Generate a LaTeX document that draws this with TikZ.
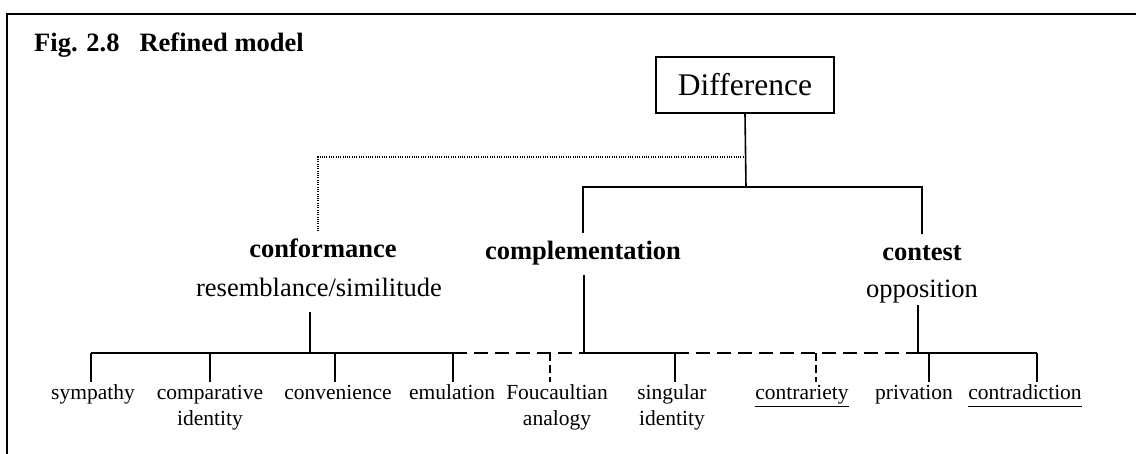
\documentclass[tikz,border=0pt]{standalone}
\usepackage{fontspec}
\setmainfont{Liberation Serif}
% centred stack of lines whose baseline is the first line
\newcommand\lbl[1]{\begin{tabular}[t]{@{}c@{}}#1\end{tabular}}
% heavier underline
\newcommand\undl[1]{\setbox0\hbox{#1}\rlap{\rule[-7pt]{\wd0}{1.4pt}}\box0}
\begin{document}
\begin{tikzpicture}[x=1pt,y=-1pt,
  line/.style={line width=1.6pt},
  dotline/.style={line width=1.1pt,dash pattern=on 1pt off 1.3pt},
  busdash/.style={line width=1.6pt,dash pattern=on 14pt off 7pt},
  tickdash/.style={line width=1.6pt,dash pattern=on 8pt off 4pt},
  rootbox/.style={draw,line width=1.5pt,minimum width=178pt,minimum height=56pt,
    inner sep=0pt,font=\fontsize{31.5}{36}\selectfont},
  mid/.style={anchor=base,inner xsep=0pt,inner ysep=9pt,text height=18pt,text depth=6pt,
    font=\fontsize{26.5}{30}\selectfont},
  head/.style={mid,font=\fontsize{26.5}{30}\selectfont\bfseries},
  leaf/.style={anchor=base,inner sep=0pt,font=\fontsize{21.5}{26}\selectfont}]
\useasboundingbox (0,0) rectangle (1136,454);

% frame edges
\draw[line width=2.2pt] (7,454) -- (7,14) -- (1136,14);

% title
\node[anchor=base west,inner sep=0pt,font=\fontsize{26.5}{30}\selectfont\bfseries]
  (title) at (34,52) {Fig. 2.8\hspace{20pt}Refined model};

% root
\node[rootbox] (diff) at (745,85) {Difference};

% second level
\node[head] (conf) at (323,258) {conformance};
\node[mid] (confsub) at (319,297) {resemblance/similitude};
\node[head] (comp) at (583,260) {complementation};
\node[head] (cont) at (922,261) {contest};
\node[mid] (opp) at (922,298) {opposition};
\coordinate (oppfoot) at ([yshift=8pt]opp.south);

% root connectors
\coordinate (hub) at (746,187);
\coordinate (dj) at (746,157);
\draw[line] (diff.south) -- (hub);
\draw[line] (comp.north) |- (hub) -| (cont.north);
\draw[dotline] (dj) -| ([xshift=-5pt]conf.north);

% leaves
\node[leaf] (sym) at (93,400) {\lbl{sympathy}};
\node[leaf] (cid) at (210,400) {\lbl{comparative\\identity}};
\node[leaf] (conv) at (338,400) {\lbl{convenience}};
\node[leaf] (emu) at (452,400) {\lbl{emulation}};
\node[leaf] (fouc) at (557,400) {\lbl{Foucaultian\\analogy}};
\node[leaf] (sing) at (672,400) {\lbl{singular\\identity}};
\node[leaf] (contr) at (802,400) {\lbl{\undl{contrariety}}};
\node[leaf] (priv) at (914,400) {\lbl{privation}};
\node[leaf] (contra) at (1025,400) {\lbl{\undl{contradiction}}};

% bus junctions
\coordinate (b1) at (91,353);
\coordinate (b2) at (210,353);
\coordinate (b3) at (335,353);
\coordinate (b4) at (453,353);
\coordinate (b5) at (550,353);
\coordinate (b6) at (675,353);
\coordinate (b7) at (816,353);
\coordinate (b8) at (929,353);
\coordinate (b9) at (1037,353);
\coordinate (bconf) at (310,353);
\coordinate (bcomp) at (584,353);
\coordinate (bcont) at (918,353);

% bus
\draw[line] (b1) -- (b4);
\draw[busdash] (b4) -- (bcomp);
\draw[line] (bcomp) -- (b6);
\draw[busdash] (b6) -- (bcont);
\draw[line] (bcont) -- (b9);

% drops into the bus
\draw[line] (bconf) -- (bconf |- confsub.south);
\draw[line] (bcomp) -- (bcomp |- comp.south);
\draw[line] (bcont) -- (bcont |- oppfoot);

% ticks to leaves
\draw[line] (b1) -- (b1 |- sym.north);
\draw[line] (b2) -- (b2 |- cid.north);
\draw[line] (b3) -- (b3 |- conv.north);
\draw[line] (b4) -- (b4 |- emu.north);
\draw[tickdash] (b5) -- (b5 |- fouc.north);
\draw[line] (b6) -- (b6 |- sing.north);
\draw[tickdash] (b7) -- (b7 |- contr.north);
\draw[line] (b8) -- (b8 |- priv.north);
\draw[line] (b9) -- (b9 |- contra.north);
\end{tikzpicture}
\end{document}
